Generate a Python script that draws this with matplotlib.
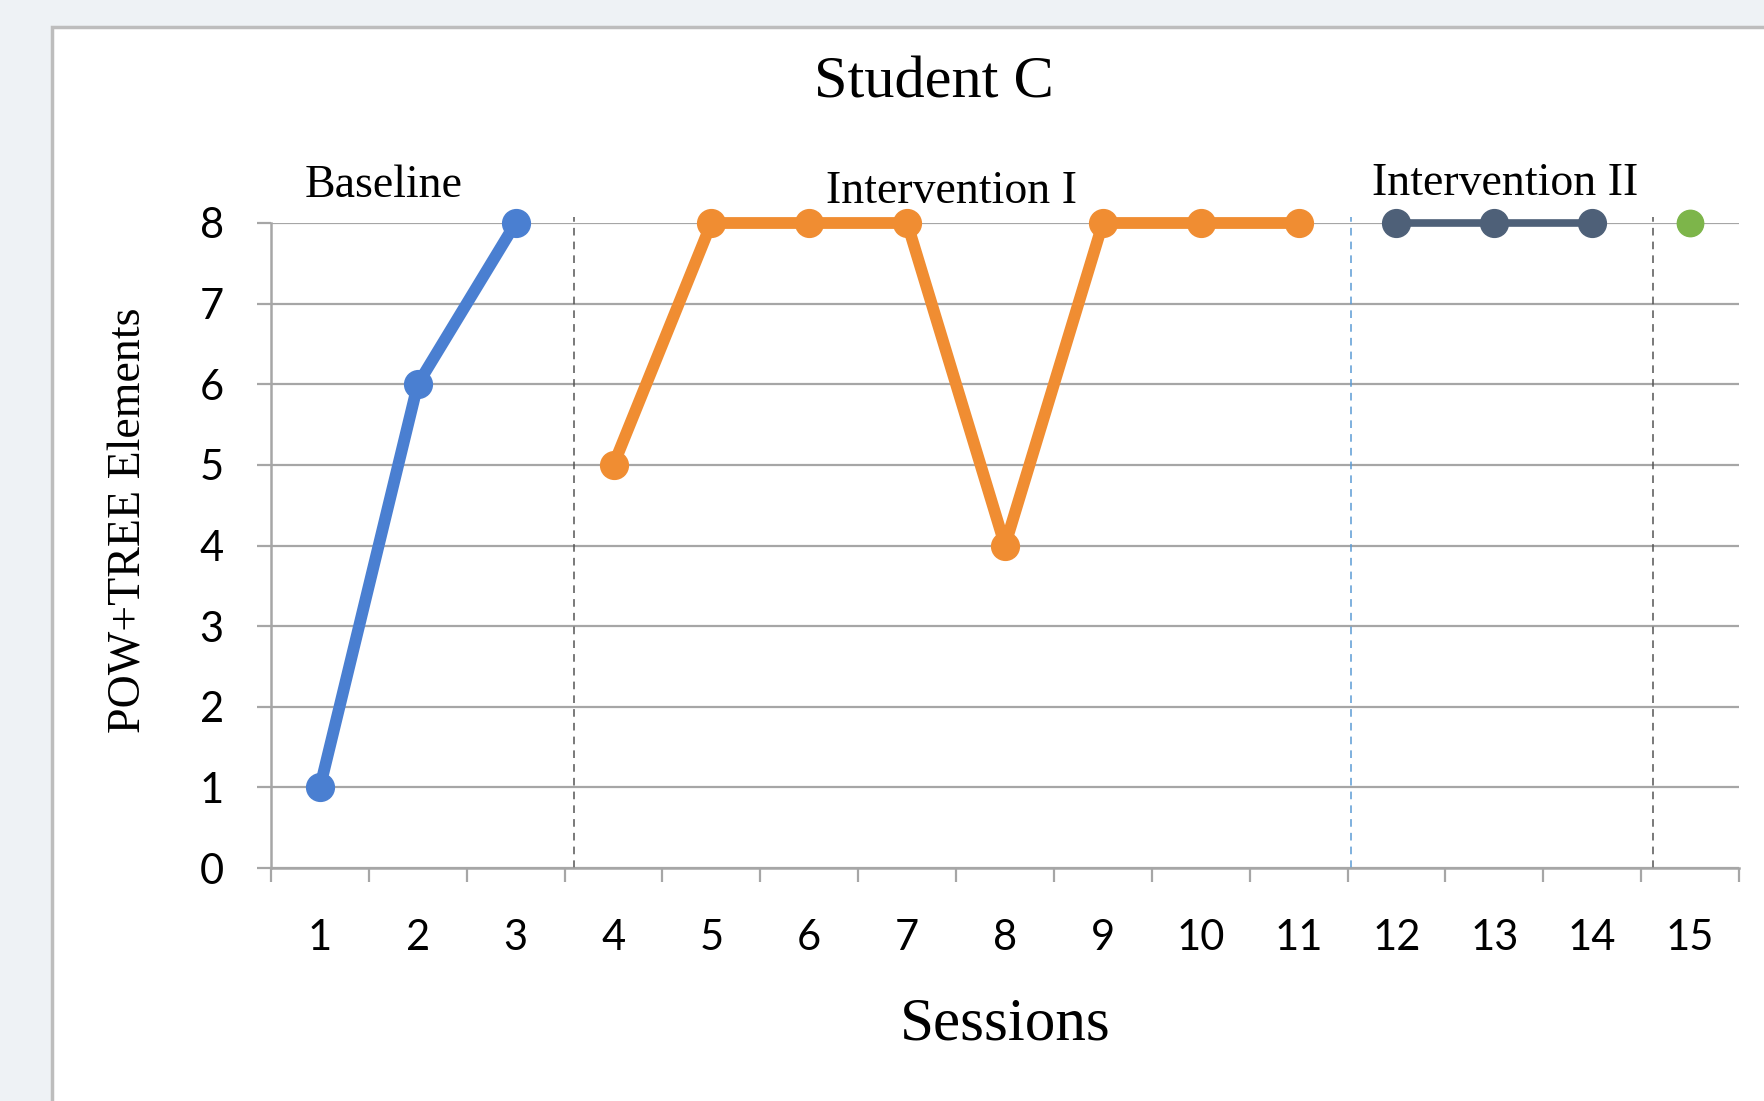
import matplotlib
matplotlib.use("Agg")
import matplotlib.pyplot as plt
from matplotlib.patches import Rectangle

# Student C: POW+TREE elements per session, by phase
baseline_sessions = [1, 2, 3]
baseline_scores = [1, 6, 8]
interv1_sessions = [4, 5, 6, 7, 8, 9, 10, 11]
interv1_scores = [5, 8, 8, 8, 4, 8, 8, 8]
interv2_sessions = [12, 13, 14]
interv2_scores = [8, 8, 8]
maint_sessions = [15]
maint_scores = [8]

sessions = list(range(1, 16))
y_ticks = list(range(0, 9))

# phase change lines (between sessions)
phase_lines = [(3.6, "#555555"), (11.54, "#5B9BD5"), (14.62, "#555555")]

SERIF = "Liberation Serif"
SANS = "Lato"

fig = plt.figure(figsize=(17.65, 11.01), dpi=100)
fig.patch.set_facecolor("#EEF2F5")

# white chart panel
panel = Rectangle((52 / 1765, -0.1), 1.2, 1 - 27 / 1101 + 0.1,
                  transform=fig.transFigure, facecolor="white",
                  edgecolor="#BDBDBD", linewidth=2.5, zorder=0)
fig.patches.append(panel)

ax = fig.add_axes([271 / 1765, 1 - 868 / 1101, (1739 - 271) / 1765, (868 - 223) / 1101])
ax.set_zorder(2)
ax.set_facecolor("none")

ax.set_xlim(0.5, 15.5)
ax.set_ylim(0, 8)

grid_color = "#A6A6A6"
ax.set_yticks(y_ticks)
ax.yaxis.grid(True, color=grid_color, linewidth=1.6, zorder=1)
ax.set_axisbelow(True)

for side in ["top", "right"]:
    ax.spines[side].set_visible(False)
for side in ["left", "bottom"]:
    ax.spines[side].set_color(grid_color)
    ax.spines[side].set_linewidth(1.8)

# category-style x axis: labels centred, ticks at the boundaries
ax.set_xticks(sessions)
ax.set_xticklabels([str(s) for s in sessions])
ax.set_xticks([s - 0.5 for s in sessions] + [15.5], minor=True)
ax.tick_params(axis="x", which="major", length=0, pad=37, labelsize=30)
ax.tick_params(axis="x", which="minor", length=10, width=1.6, color=grid_color, direction="out")
ax.tick_params(axis="y", length=10, width=1.6, color=grid_color, pad=24, labelsize=30)
for lbl in ax.get_xticklabels() + ax.get_yticklabels():
    lbl.set_fontfamily(SANS)

# phase change lines
for xpos, col in phase_lines:
    ax.plot([xpos, xpos], [0, 8.08], color=col, linewidth=1.1,
            linestyle=(0, (5, 4)), zorder=2, clip_on=False)

ax.plot(baseline_sessions, baseline_scores, color="#4A7FD1", linewidth=8.5,
        marker="o", markersize=20, zorder=4, clip_on=False)
ax.plot(interv1_sessions, interv1_scores, color="#F08D32", linewidth=8.5,
        marker="o", markersize=20, zorder=4, clip_on=False)
ax.plot(interv2_sessions, interv2_scores, color="#4E6078", linewidth=5.5,
        marker="o", markersize=20, zorder=4, clip_on=False)
ax.plot(maint_sessions, maint_scores, color="#7DB54A", linewidth=5.5,
        marker="o", markersize=19, zorder=4, clip_on=False)

# titles and labels
fig.text(934 / 1765, 1 - 83 / 1101, "Student C", ha="center", va="center",
         fontsize=43.5, family=SERIF)
fig.text(1005 / 1765, 1 - 1025 / 1101, "Sessions", ha="center", va="center",
         fontsize=44, family=SERIF)
fig.text(129 / 1765, 1 - 520 / 1101, "POW+TREE Elements", ha="center", va="center",
         rotation=90, fontsize=33, family=SERIF)

fig.text(384 / 1765, 1 - 186 / 1101, "Baseline", ha="center", va="center",
         fontsize=33, family=SERIF)
fig.text(952 / 1765, 1 - 192 / 1101, "Intervention I", ha="center", va="center",
         fontsize=33, family=SERIF)
fig.text(1505 / 1765, 1 - 184 / 1101, "Intervention II", ha="center", va="center",
         fontsize=33, family=SERIF)

fig.savefig("out.png", dpi=100, facecolor=fig.get_facecolor())
